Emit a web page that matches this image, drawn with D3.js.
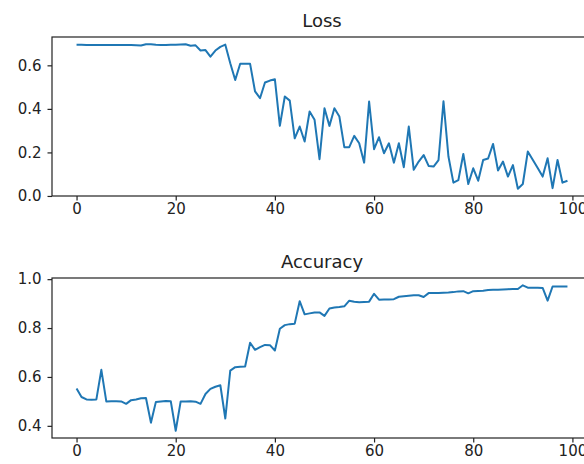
<!DOCTYPE html>
<html>
<head>
<meta charset="utf-8">
<script src="https://cdn.jsdelivr.net/npm/d3@7"></script>
<style>
  html, body { margin: 0; padding: 0; background: #fff; }
  svg { display: block; }
</style>
</head>
<body>
<div id="chart"></div>
<script>
const epochs = d3.range(100);

const lossValues = [
  0.695, 0.695, 0.694, 0.694, 0.693, 0.694, 0.694, 0.694, 0.694, 0.693,
  0.693, 0.693, 0.692, 0.691, 0.697, 0.697, 0.695, 0.694, 0.694, 0.695,
  0.695, 0.696, 0.697, 0.690, 0.692, 0.668, 0.670, 0.640, 0.668, 0.685,
  0.695, 0.610, 0.533, 0.607, 0.607, 0.607, 0.480, 0.449, 0.521, 0.530,
  0.536, 0.322, 0.457, 0.438, 0.265, 0.319, 0.250, 0.388, 0.350, 0.169,
  0.403, 0.322, 0.403, 0.365, 0.224, 0.224, 0.276, 0.242, 0.153, 0.434,
  0.215, 0.270, 0.196, 0.242, 0.153, 0.242, 0.132, 0.319, 0.120, 0.158,
  0.188, 0.138, 0.135, 0.165, 0.435, 0.181, 0.061, 0.073, 0.193, 0.055,
  0.127, 0.070, 0.165, 0.172, 0.239, 0.117, 0.158, 0.089, 0.142, 0.033,
  0.055, 0.204, 0.166, 0.128, 0.089, 0.173, 0.036, 0.165, 0.061, 0.070
];

const accuracyValues = [
  0.553, 0.518, 0.508, 0.507, 0.508, 0.629, 0.500, 0.501, 0.501, 0.500,
  0.490, 0.505, 0.508, 0.513, 0.514, 0.413, 0.498, 0.500, 0.502, 0.501,
  0.380, 0.500, 0.500, 0.501, 0.499, 0.490, 0.530, 0.551, 0.560, 0.566,
  0.430, 0.626, 0.640, 0.642, 0.643, 0.740, 0.711, 0.722, 0.731, 0.730,
  0.708, 0.797, 0.812, 0.816, 0.818, 0.910, 0.856, 0.860, 0.864, 0.864,
  0.850, 0.880, 0.884, 0.886, 0.889, 0.912, 0.908, 0.906, 0.907, 0.908,
  0.940, 0.916, 0.917, 0.917, 0.918, 0.928, 0.930, 0.932, 0.934, 0.934,
  0.927, 0.943, 0.943, 0.943, 0.944, 0.945, 0.947, 0.950, 0.951, 0.942,
  0.951, 0.952, 0.953, 0.956, 0.957, 0.957, 0.958, 0.959, 0.960, 0.960,
  0.975, 0.965, 0.965, 0.965, 0.964, 0.912, 0.970, 0.970, 0.970, 0.970
];

const epochTicks = [0, 20, 40, 60, 80, 100];
const lossTicks = [0.0, 0.2, 0.4, 0.6];
const accuracyTicks = [0.4, 0.6, 0.8, 1.0];

const width = 584;
const height = 464;
const FONT = '"DejaVu Sans", sans-serif';

const svg = d3.select('#chart').append('svg')
  .attr('width', width)
  .attr('height', height);

// matplotlib-style 5% margins around the data
function paddedDomain(values) {
  const [lo, hi] = d3.extent(values);
  const pad = (hi - lo) * 0.05;
  return [lo - pad, hi + pad];
}

const x = d3.scaleLinear()
  .domain(paddedDomain(epochs))
  .range([52, 592]);

function drawPanel(title, values, yTicks, top, bottom) {
  const y = d3.scaleLinear()
    .domain(paddedDomain(values))
    .range([bottom, top]);

  const g = svg.append('g');

  const yAxis = g.append('g')
    .attr('transform', `translate(${x.range()[0]},0)`)
    .call(d3.axisLeft(y).tickValues(yTicks).tickSize(4.5).tickPadding(6).tickFormat(d3.format('.1f')));

  const xAxis = g.append('g')
    .attr('transform', `translate(0,${bottom})`)
    .call(d3.axisBottom(x).tickValues(epochTicks).tickSize(4.5).tickPadding(3).tickFormat(d3.format('d')));

  [yAxis, xAxis].forEach(a => {
    a.select('.domain').remove();
    a.selectAll('line').attr('stroke', '#222').attr('stroke-width', 1.2);
    a.selectAll('text')
      .style('font-family', FONT)
      .style('font-size', '15px')
      .attr('fill', '#222');
  });

  g.append('path')
    .datum(values)
    .attr('fill', 'none')
    .attr('stroke', '#1f77b4')
    .attr('stroke-width', 2)
    .attr('stroke-linejoin', 'round')
    .attr('d', d3.line().x((d, i) => x(epochs[i])).y(d => y(d)));

  g.append('rect')
    .attr('x', x.range()[0])
    .attr('y', top)
    .attr('width', x.range()[1] - x.range()[0])
    .attr('height', bottom - top)
    .attr('fill', 'none')
    .attr('stroke', '#222')
    .attr('stroke-width', 1.2);

  g.append('text')
    .attr('x', (x.range()[0] + x.range()[1]) / 2)
    .attr('y', top - 10)
    .attr('text-anchor', 'middle')
    .style('font-family', FONT)
    .style('font-size', '18px')
    .attr('fill', '#222')
    .text(title);
}

drawPanel('Loss', lossValues, lossTicks, 37, 196);
drawPanel('Accuracy', accuracyValues, accuracyTicks, 278, 438);
</script>
</body>
</html>
